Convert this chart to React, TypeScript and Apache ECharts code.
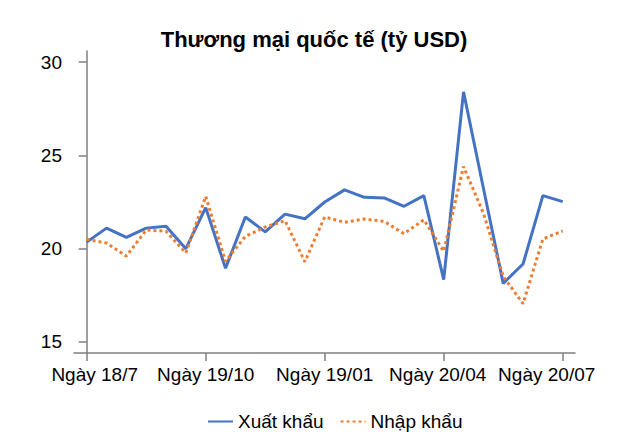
import React, { useEffect, useRef } from "react";
import * as echarts from "echarts";

const exportsData = [20.35, 21.1, 20.6, 21.1, 21.2, 20.0, 22.2, 18.95, 21.7, 20.9, 21.85, 21.6, 22.5, 23.15, 22.75, 22.72, 22.27, 22.84, 18.34, 28.4, 23.25, 18.14, 19.18, 22.84, 22.52];
const importsData = [20.5, 20.3, 19.6, 21.0, 20.93, 19.77, 22.8, 19.32, 20.66, 21.16, 21.5, 19.3, 21.7, 21.41, 21.59, 21.46, 20.8, 21.55, 19.86, 24.4, 21.9, 18.52, 17.05, 20.52, 20.95];
const xTickPositions = [0, 6, 12, 18, 24];
const xTickLabels = ["Ngày 18/7", "Ngày 19/10", "Ngày 19/01", "Ngày 20/04", "Ngày 20/07"];
const yTicks = [15, 20, 25, 30];
const seriesNames = ["Xuất khẩu", "Nhập khẩu"];
const titleText = "Thương mại quốc tế (tỷ USD)";

const FONT = "Liberation Sans";
// rich style keys per x label (shift labels the way the reference does)
const labelStyleKeys = ["s0", "s1", "s2", "s3", "s4"];

export default function App() {
  const ref = useRef<HTMLDivElement>(null);
  useEffect(() => {
    if (!ref.current) return;
    const chart = echarts.init(ref.current, undefined, { renderer: "svg" });
    const axisLine = { show: true, lineStyle: { color: "#7f7f7f", width: 1.5 } };
    const baseText = { fontFamily: FONT, fontSize: 19, color: "#000" };
    chart.setOption({
      animation: false,
      backgroundColor: "#fff",
      title: {
        text: titleText,
        left: "center",
        top: 23,
        textStyle: { fontFamily: FONT, fontSize: 22, fontWeight: "bold", color: "#000" },
      },
      legend: {
        left: 202,
        top: 407,
        itemWidth: 25,
        itemHeight: 14,
        itemGap: 16,
        itemStyle: { opacity: 0 },
        textStyle: { fontFamily: FONT, fontSize: 19, color: "#000" },
        data: seriesNames,
      },
      grid: { left: 74, right: 53, top: 51, bottom: 89, containLabel: false },
      xAxis: {
        type: "value",
        min: -0.64,
        max: 24.62,
        axisLine,
        splitLine: { show: false },
        axisTick: { show: true, length: 8, lineStyle: { color: "#7f7f7f", width: 1.5 }, customValues: xTickPositions },
        axisLabel: {
          customValues: xTickPositions,
          margin: 12,
          ...baseText,
          formatter: (v: number) => {
            const i = xTickPositions.indexOf(Math.round(v));
            return i >= 0 ? `{${labelStyleKeys[i]}|${xTickLabels[i]}}` : "";
          },
          rich: {
            s0: { ...baseText, padding: [0, 0, 0, 16] },
            s1: { ...baseText },
            s2: { ...baseText },
            s3: { ...baseText, padding: [0, 12, 0, 0] },
            s4: { ...baseText, padding: [0, 32, 0, 0] },
          },
        },
      },
      yAxis: {
        type: "value",
        min: 14.41,
        max: 30.59,
        axisLine,
        splitLine: { show: false },
        axisTick: { show: true, length: 8, lineStyle: { color: "#7f7f7f", width: 1.5 }, customValues: yTicks },
        axisLabel: {
          customValues: yTicks,
          margin: 12,
          ...baseText,
        },
      },
      series: [
        {
          name: seriesNames[0],
          type: "line",
          symbol: "none",
          data: exportsData.map((v, i) => [i, v]),
          lineStyle: { color: "#4472c4", width: 3 },
          itemStyle: { color: "#4472c4" },
        },
        {
          name: seriesNames[1],
          type: "line",
          symbol: "none",
          data: importsData.map((v, i) => [i, v]),
          lineStyle: { color: "#ed7d31", width: 3, type: [3, 3] },
          itemStyle: { color: "#ed7d31" },
        },
      ],
    });
    return () => chart.dispose();
  }, []);
  return <div ref={ref} style={{ position: "fixed", left: 0, top: 0, width: 628, height: 442 }} />;
}
